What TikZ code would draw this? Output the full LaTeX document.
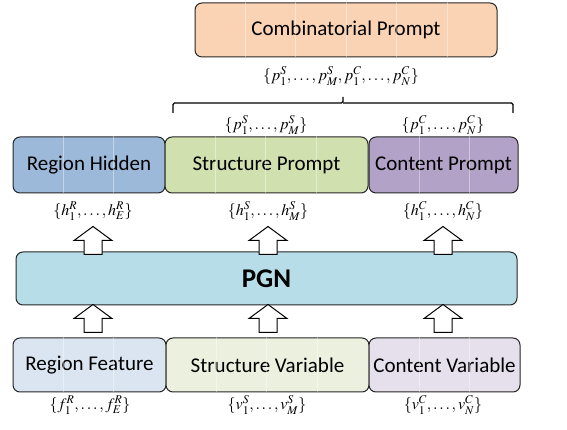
\documentclass[tikz,border=0pt]{standalone}
\usepackage{mathptmx}
\usepackage[no-math]{fontspec}
\newfontfamily\boxfont{Carlito}
\usetikzlibrary{calc}
\definecolor{combfill}{HTML}{FAD3B5}
\definecolor{hidfill}{HTML}{9DB9D9}
\definecolor{spfill}{HTML}{D0E0AE}
\definecolor{cpfill}{HTML}{B2A2C7}
\definecolor{pgnfill}{HTML}{B7DEE8}
\definecolor{featfill}{HTML}{DBE5F1}
\definecolor{svfill}{HTML}{EBF1DE}
\definecolor{cvfill}{HTML}{E5E0EC}
\tikzset{box/.style = {draw=black!85, line width=1pt, rounded corners=7pt, inner sep=0pt,
                       font=\boxfont\fontsize{21}{25}\selectfont},
         setlabel/.style = {inner sep=0pt, font=\fontsize{16}{19}\selectfont},
         segline/.style = {white, opacity=0.4, line width=0.8pt},
         blockarr/.pic = {\draw[fill=white, line width=1pt, draw=black]
                          (-9,0) -- (-9,14) -- (-19,14) -- (0,28) -- (19,14) -- (9,14) -- (9,0) -- cycle;}}
\newcommand{\segs}[2]{\foreach \k in {1,...,#2}
  \draw[segline] ([xshift=\k*50.5pt]#1.north west) -- ([xshift=\k*50.5pt]#1.south west);}

\begin{document}
\begin{tikzpicture}[x=1pt, y=1pt]
  \useasboundingbox (0,0) rectangle (567,430);
  % top
  \node[box, fill=combfill, minimum width=302pt, minimum height=54pt] (comb) at (346,400) {Combinatorial Prompt};
  \segs{comb}{5}
  \node[setlabel] (combl) at (341,354) {$\{p_1^S,\ldots,p_M^S,p_1^C,\ldots,p_N^C\}$};
  \coordinate (brl) at (173,317);
  \coordinate (brr) at (513,317);
  \coordinate (brm) at (343,333);
  \draw[line width=1.1pt, rounded corners=1.5pt] (brl) -- ++(0,10) -- (brm |- 0,327) -- (brm);
  \draw[line width=1.1pt, rounded corners=1.5pt] (brr) -- ++(0,10) -- (brm |- 0,327);
  \node[setlabel] (sprl) at (266,305) {$\{p_1^S,\ldots,p_M^S\}$};
  \node[setlabel] (cprl) at (443,305) {$\{p_1^C,\ldots,p_N^C\}$};
  % middle row
  \node[box, fill=hidfill, minimum width=152pt, minimum height=56pt] (rhid) at (89,265) {Region Hidden};
  \node[box, fill=spfill, minimum width=203pt, minimum height=56pt] (sprompt) at (266.5,265) {Structure Prompt};
  \node[box, fill=cpfill, minimum width=149pt, minimum height=56pt] (cprompt) at (443.5,265) {Content Prompt};
  \segs{rhid}{2}
  \segs{sprompt}{3}
  \segs{cprompt}{2}
  \node[setlabel] (rhl) at (93,219) {$\{h_1^R,\ldots,h_E^R\}$};
  \node[setlabel] (shl) at (268,219) {$\{h_1^S,\ldots,h_M^S\}$};
  \node[setlabel] (chl) at (443,219) {$\{h_1^C,\ldots,h_N^C\}$};
  % PGN
  \node[box, fill=pgnfill, minimum width=501pt, minimum height=53pt,
        font=\boxfont\fontsize{27}{31}\selectfont\bfseries] (pgn) at (266.5,151.5) {PGN};
  % bottom row
  \node[box, fill=featfill, minimum width=153pt, minimum height=54pt] (rfeat) at (89.5,65) {Region Feature};
  \node[box, fill=svfill, minimum width=203pt, minimum height=54pt] (svar) at (267.5,65) {Structure Variable};
  \node[box, fill=cvfill, minimum width=151pt, minimum height=54pt] (cvar) at (444.5,65) {Content Variable};
  \segs{rfeat}{2}
  \segs{svar}{3}
  \segs{cvar}{2}
  \node[setlabel] (rfl) at (90,25) {$\{f_1^R,\ldots,f_E^R\}$};
  \node[setlabel] (svl) at (267,25) {$\{v_1^S,\ldots,v_M^S\}$};
  \node[setlabel] (cvl) at (443,25) {$\{v_1^C,\ldots,v_N^C\}$};
  % arrows
  \foreach \b in {rhl, shl, chl}
    \pic at ($(\b |- pgn.north)+(0,-3)$) {blockarr};
  \foreach \b in {rhl, shl, chl}
    \pic at ($(\b |- rfeat.north)+(0,5)$) {blockarr};
\end{tikzpicture}
\end{document}
